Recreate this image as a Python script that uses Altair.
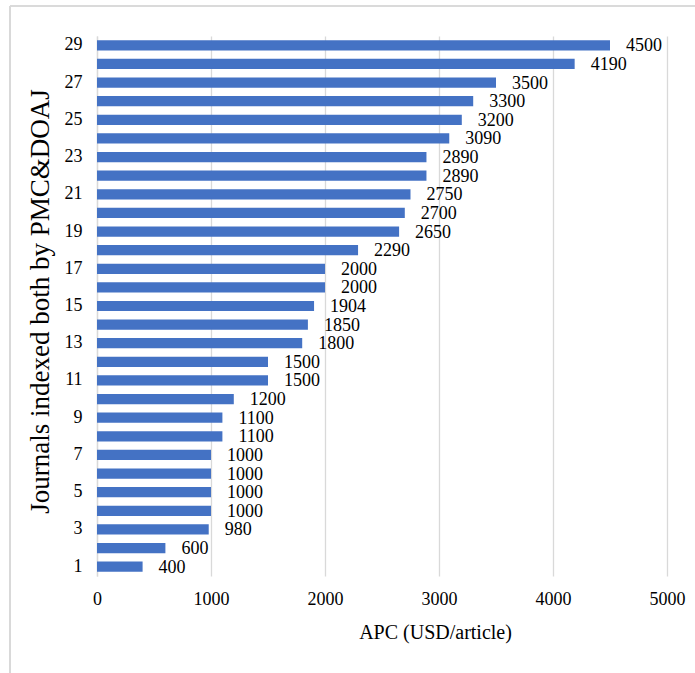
import altair as alt
import pandas as pd

# Journal index (1 = bottom) and article processing charge
journals = list(range(1, 30))
apc = [400, 600, 980, 1000, 1000, 1000, 1000, 1100, 1100, 1200,
       1500, 1500, 1800, 1850, 1904, 2000, 2000, 2290, 2650, 2700,
       2750, 2890, 2890, 3090, 3200, 3300, 3500, 4190, 4500]
x_ticks = [0, 1000, 2000, 3000, 4000, 5000]

df = pd.DataFrame({"journal": journals, "apc": apc})

FONT = "'Liberation Serif', 'Times New Roman', serif"
BAR = "#4472C4"
GRID = "#d9d9d9"

y_enc = alt.Y(
    "journal:O",
    sort="descending",
    scale=alt.Scale(paddingInner=0.45, paddingOuter=0.225),
    axis=alt.Axis(
        title="Journals indexed both by PMC&DOAJ",
        titleFont=FONT, titleFontSize=27, titleFontWeight="normal",
        titleColor="#000000", titleX=-57, titleY=265, titleBaseline="middle",
        labelFont=FONT, labelFontSize=18, labelColor="#000000",
        labelPadding=15, ticks=False,
        labelExpr="datum.value % 2 == 1 ? datum.label : ''",
        domainColor=GRID, domainWidth=1.3, grid=False,
    ),
)

x_enc = alt.X(
    "apc:Q",
    scale=alt.Scale(domain=[0, 5000], nice=False),
    axis=alt.Axis(
        title="APC (USD/article)", values=x_ticks, format="d",
        titleFont=FONT, titleFontSize=20, titleFontWeight="normal",
        titleColor="#000000", titleX=338, titleY=62, titleBaseline="alphabetic",
        labelFont=FONT, labelFontSize=18, labelColor="#000000",
        labelPadding=14, labelFlush=False, ticks=False, domain=False,
        grid=True, gridColor=GRID, gridWidth=1.3,
    ),
)

bars = alt.Chart(df).mark_bar(color=BAR).encode(x=x_enc, y=y_enc)

labels = alt.Chart(df).mark_text(
    align="left", baseline="middle", dx=16, dy=1,
    font=FONT, fontSize=18, color="#000000",
).encode(x="apc:Q", y=alt.Y("journal:O", sort="descending"), text="apc:Q")

# light outer frame (top and left edges)
frame_top = alt.Chart(df).mark_rule(color=GRID, strokeWidth=1.2).encode(
    x=alt.value(-87), x2=alt.value(620), y=alt.value(-30)
)
frame_left = alt.Chart(df).mark_rule(color=GRID, strokeWidth=1.2).encode(
    x=alt.value(-87), y=alt.value(-30), y2=alt.value(660)
)

chart = alt.layer(frame_top, frame_left, bars, labels).properties(
    width=570, height=540,
    autosize=alt.AutoSizeParams(type="none"),
    padding={"left": 97, "top": 36, "right": 28, "bottom": 97},
    background="#ffffff",
).configure_view(stroke=None)

chart.save("out.html", embed_options={"renderer": "svg", "actions": False})
